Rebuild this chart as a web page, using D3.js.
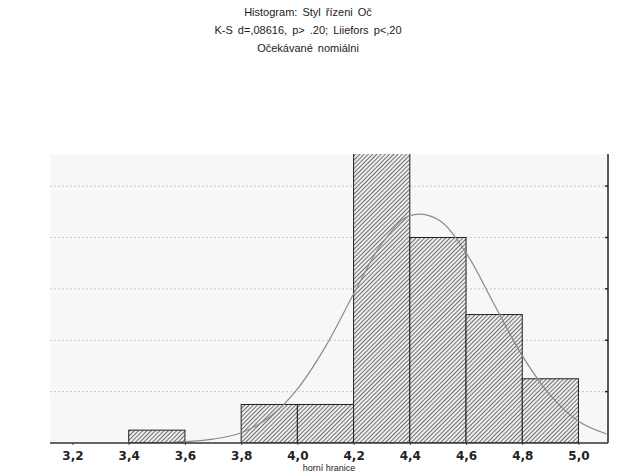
<!DOCTYPE html>
<html>
<head>
<meta charset="utf-8">
<script src="https://cdn.jsdelivr.net/npm/d3@7"></script>
<style>
  body { margin: 0; background: white; }
  svg { font-family: "Liberation Sans", Arial, sans-serif; }
</style>
</head>
<body>
<div id="myVis"></div>
<script>
// data
const titleLines = ["Histogram: Styl řízeni Oč", "K-S d=,08616, p> .20; Liiefors p<,20", "Očekávané nomiálni"]
const xLabel = "horní hranice"
const binStarts = [3.4, 3.6, 3.8, 4.0, 4.2, 4.4, 4.6, 4.8]
const binWidth = 0.2
const counts = [1, 0, 3, 3, 23, 16, 10, 5]
const xTicks = [3.2, 3.4, 3.6, 3.8, 4.0, 4.2, 4.4, 4.6, 4.8, 5.0]
const gridValues = [4, 8, 12, 16, 20]
// expected normal curve, read at 0.1 steps
const curveX = [3.5, 3.6, 3.7, 3.8, 3.9, 4.0, 4.1, 4.2, 4.3, 4.4, 4.5, 4.6, 4.7, 4.8, 4.9, 5.0, 5.1]
const curveY = [0.0, 0.1, 0.3, 0.8, 2.0, 4.2, 7.5, 11.6, 15.5, 17.7, 17.4, 14.8, 10.8, 6.8, 3.7, 1.7, 0.7]

const width = 619, height = 472
const plot = {left: 50, right: 608, top: 154, bottom: 443}

const svg = d3.select("#myVis")
    .append("svg")
        .attr("width", width)
        .attr("height", height)
        .style("background-color", "white")

const x = d3.scaleLinear().domain([3.12, 5.105]).range([plot.left, plot.right])
const y = d3.scaleLinear().domain([0, 22.5]).range([plot.bottom, plot.top])

// titles
svg.append("g")
    .selectAll("text")
    .data(titleLines)
    .enter()
    .append("text")
        .attr("x", 308)
        .attr("y", (d, i) => 16 + i * 18)
        .attr("text-anchor", "middle")
        .style("font-size", "11px")
        .style("word-spacing", "2px")
        .attr("fill", "#222")
        .text(d => d)

// hatch
const defs = svg.append("defs")
const pat = defs.append("pattern")
    .attr("id", "hatch")
    .attr("patternUnits", "userSpaceOnUse")
    .attr("width", 3)
    .attr("height", 3)
    .attr("patternTransform", "rotate(45)")
pat.append("rect").attr("width", 3).attr("height", 3).attr("fill", "#eeeeee")
pat.append("line")
    .attr("x1", 0).attr("y1", 0).attr("x2", 0).attr("y2", 3)
    .attr("stroke", "#3a3a3a").attr("stroke-width", 1.4)

defs.append("clipPath").attr("id", "clip")
    .append("rect")
        .attr("x", plot.left).attr("y", plot.top)
        .attr("width", plot.right - plot.left).attr("height", plot.bottom - plot.top)

// plot background
svg.append("rect")
    .attr("x", plot.left).attr("y", plot.top)
    .attr("width", plot.right - plot.left).attr("height", plot.bottom - plot.top)
    .attr("fill", "#f7f7f7")

// gridlines
svg.append("g")
    .selectAll("line")
    .data(gridValues)
    .enter()
    .append("line")
        .attr("x1", plot.left).attr("x2", plot.right)
        .attr("y1", d => y(d)).attr("y2", d => y(d))
        .attr("stroke", "#c8c8c8")
        .attr("stroke-dasharray", "2,2")

// bars
const bars = binStarts.map((s, i) => ({x0: s, x1: s + binWidth, n: counts[i]})).filter(d => d.n > 0)
svg.append("g")
    .attr("clip-path", "url(#clip)")
    .selectAll("rect")
    .data(bars)
    .enter()
    .append("rect")
        .attr("x", d => x(d.x0))
        .attr("y", d => y(d.n))
        .attr("width", d => x(d.x1) - x(d.x0))
        .attr("height", d => y(0) - y(d.n))
        .attr("fill", "url(#hatch)")
        .attr("stroke", "#222")
        .attr("stroke-width", 1)

// normal curve
const line = d3.line()
    .x(d => x(d[0]))
    .y(d => y(d[1]))
    .curve(d3.curveCatmullRom)
svg.append("path")
    .datum(curveX.map((v, i) => [v, curveY[i]]))
    .attr("clip-path", "url(#clip)")
    .attr("d", line)
    .attr("fill", "none")
    .attr("stroke", "#8a8a8a")
    .attr("stroke-width", 1.2)

// right border with inward ticks
svg.append("line")
    .attr("x1", plot.right).attr("x2", plot.right)
    .attr("y1", plot.top).attr("y2", plot.bottom)
    .attr("stroke", "#222").attr("stroke-width", 1.5)
svg.append("g")
    .selectAll("line")
    .data(gridValues)
    .enter()
    .append("line")
        .attr("x1", plot.right - 3).attr("x2", plot.right)
        .attr("y1", d => y(d)).attr("y2", d => y(d))
        .attr("stroke", "#222").attr("stroke-width", 1.5)

// x axis
const xAxis = d3.axisBottom(x)
    .tickValues(xTicks)
    .tickSize(2)
    .tickPadding(6)
    .tickFormat(d => d3.format(".1f")(d).replace(".", ","))
const gx = svg.append("g")
    .attr("transform", "translate(0," + plot.bottom + ")")
    .call(xAxis)
gx.select(".domain").remove()
gx.selectAll(".tick line").attr("stroke", "#444")
gx.selectAll(".tick text")
    .style("font-size", "12px")
    .style("font-weight", "bold")
    .style("font-family", "'DejaVu Sans', sans-serif")
    .attr("fill", "#222")
svg.append("line")
    .attr("x1", plot.left).attr("x2", plot.right)
    .attr("y1", plot.bottom).attr("y2", plot.bottom)
    .attr("stroke", "#333").attr("stroke-width", 1.5)

// x label at the bottom edge
svg.append("text")
    .attr("x", (plot.left + plot.right) / 2)
    .attr("y", 470.5)
    .attr("text-anchor", "middle")
    .style("font-size", "9px")
    .attr("fill", "#222")
    .text(xLabel)
</script>
</body>
</html>
